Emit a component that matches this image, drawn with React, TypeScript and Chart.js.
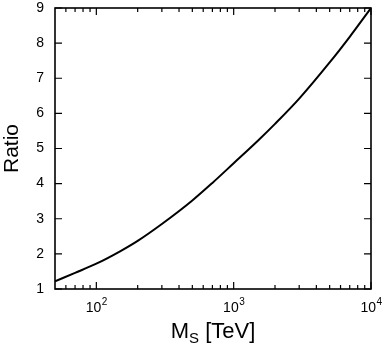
import React, { useEffect, useRef } from "react";
import { Chart, registerables } from "chart.js";

Chart.register(...registerables);

// Data
const MS_TEV = [50, 70, 100, 150, 200, 300, 500, 700, 1000, 1500, 2000, 3000, 5000, 7000, 10000];
const RATIO = [1.22, 1.46, 1.72, 2.08, 2.37, 2.85, 3.52, 4.02, 4.58, 5.22, 5.7, 6.42, 7.45, 8.18, 9.0];

const X_MAJOR_TICKS = [100, 1000, 10000];
const X_TICK_BASE = "10";
const X_TICK_EXP = ["2", "3", "4"];
const X_MINOR_TICKS = [60, 70, 80, 90, 200, 300, 400, 500, 600, 700, 800, 900, 2000, 3000, 4000, 5000, 6000, 7000, 8000, 9000];
const Y_TICKS = [1, 2, 3, 4, 5, 6, 7, 8, 9];

const FONT = "'Liberation Sans', Arial, Helvetica, sans-serif";

const framePlugin = {
  id: "frameTicks",
  afterDraw(chart: any) {
    const { ctx, chartArea, scales } = chart;
    const { left, right, top, bottom } = chartArea;
    const x = scales.x;
    const y = scales.y;
    ctx.save();
    ctx.strokeStyle = "#000";
    ctx.lineWidth = 1.6;
    ctx.strokeRect(left, top, right - left, bottom - top);
    ctx.lineWidth = 1.2;
    ctx.beginPath();
    const drawX = (v: number, len: number) => {
      const px = x.getPixelForValue(v);
      ctx.moveTo(px, bottom);
      ctx.lineTo(px, bottom - len);
      ctx.moveTo(px, top);
      ctx.lineTo(px, top + len);
    };
    X_MAJOR_TICKS.forEach((v) => drawX(v, 7));
    X_MINOR_TICKS.forEach((v) => drawX(v, 4));
    Y_TICKS.forEach((v) => {
      const py = y.getPixelForValue(v);
      ctx.moveTo(left, py);
      ctx.lineTo(left + 7, py);
      ctx.moveTo(right, py);
      ctx.lineTo(right - 7, py);
    });
    ctx.stroke();

    ctx.fillStyle = "#000";
    ctx.textBaseline = "alphabetic";
    ctx.textAlign = "left";

    // x tick labels 10^n
    const tickFont = `14px ${FONT}`;
    const expFont = `10px ${FONT}`;
    X_MAJOR_TICKS.forEach((v, i) => {
      const px = x.getPixelForValue(v);
      ctx.font = tickFont;
      const wb = ctx.measureText(X_TICK_BASE).width;
      ctx.font = expFont;
      const we = ctx.measureText(X_TICK_EXP[i]).width;
      const sx = px - (wb + we) / 2;
      const base = bottom + 23;
      ctx.font = tickFont;
      ctx.fillText(X_TICK_BASE, sx, base);
      ctx.font = expFont;
      ctx.fillText(X_TICK_EXP[i], sx + wb + 0.5, base - 7);
    });

    // x-axis title with subscript
    const big = `22px ${FONT}`;
    const small = `15px ${FONT}`;
    ctx.font = big;
    const wM = ctx.measureText("M").width;
    const rest = " [TeV]";
    const wRest = ctx.measureText(rest).width;
    ctx.font = small;
    const wS = ctx.measureText("S").width;
    const total = wM + wS + wRest;
    const cx = (left + right) / 2;
    let sx = cx - total / 2;
    const base = bottom + 49;
    ctx.font = big;
    ctx.fillText("M", sx, base);
    sx += wM;
    ctx.font = small;
    ctx.fillText("S", sx, base + 5);
    sx += wS;
    ctx.font = big;
    ctx.fillText(rest, sx, base);
    ctx.restore();
  },
};

export default function App() {
  const ref = useRef<HTMLCanvasElement | null>(null);
  useEffect(() => {
    document.body.style.margin = "0";
    const canvas = ref.current;
    if (!canvas) return;
    const chart = new Chart(canvas, {
      type: "line",
      data: {
        datasets: [
          {
            data: MS_TEV.map((m, i) => ({ x: m, y: RATIO[i] })),
            borderColor: "#000",
            borderWidth: 2,
            pointRadius: 0,
            fill: false,
            cubicInterpolationMode: "monotone",
          },
        ],
      },
      plugins: [framePlugin],
      options: {
        animation: false,
        responsive: true,
        maintainAspectRatio: false,
        layout: { padding: { top: 8, right: 12, left: 0, bottom: 0 } },
        plugins: { legend: { display: false }, tooltip: { enabled: false } },
        scales: {
          x: {
            type: "logarithmic",
            min: 50,
            max: 10000,
            grid: { display: false, drawTicks: false },
            border: { display: false },
            afterBuildTicks: (scale: any) => {
              scale.ticks = X_MAJOR_TICKS.map((v) => ({ value: v }));
            },
            afterFit: (scale: any) => {
              scale.height = 64;
              scale.paddingLeft = 0;
              scale.paddingRight = 0;
            },
            ticks: { display: false },
          },
          y: {
            min: 1,
            max: 9,
            grid: { display: false, drawTicks: false },
            border: { display: false },
            afterBuildTicks: (scale: any) => {
              scale.ticks = Y_TICKS.map((v) => ({ value: v }));
            },
            afterFit: (scale: any) => {
              scale.width = 55;
              scale.paddingTop = 0;
              scale.paddingBottom = 0;
            },
            title: {
              display: true,
              text: "Ratio",
              color: "#000",
              font: { family: FONT, size: 21 },
              padding: 0,
            },
            ticks: {
              padding: 11,
              color: "#000",
              font: { family: FONT, size: 14 },
            },
          },
        },
      },
    });
    return () => chart.destroy();
  }, []);
  return (
    <div style={{ width: 383, height: 353, position: "relative", background: "#fff" }}>
      <canvas ref={ref} />
    </div>
  );
}
